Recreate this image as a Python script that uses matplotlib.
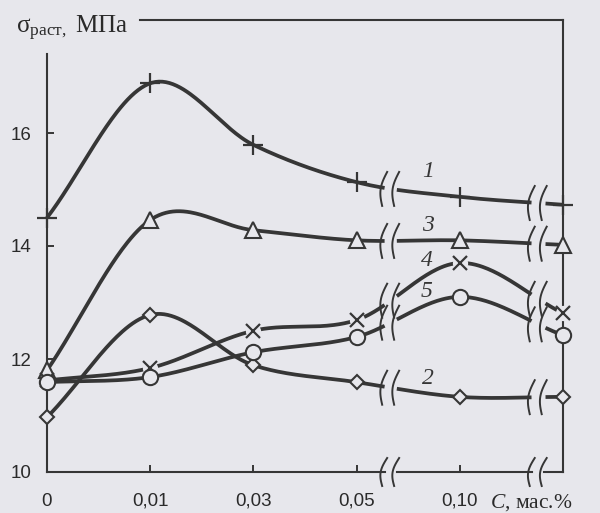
import numpy as np
import matplotlib
matplotlib.use('Agg')
import matplotlib.pyplot as plt

matplotlib.rcParams['mathtext.fontset'] = 'custom'
matplotlib.rcParams['mathtext.rm'] = 'Liberation Serif'
matplotlib.rcParams['mathtext.it'] = 'Liberation Serif:italic'
matplotlib.rcParams['font.family'] = 'Liberation Sans'

# concentration categories (equally spaced on the axis, last one unlabeled)
conc_labels = ['0', '0,01', '0,03', '0,05', '0,10']
n_pts = 6

# tensile strength, MPa, for curves 1..5
s1 = [14.5, 16.88, 15.79, 15.13, 14.87, 14.73]
s2 = [10.97, 12.78, 11.89, 11.59, 11.33, 11.33]
s3 = [11.8, 14.46, 14.28, 14.1, 14.1, 14.02]
s4 = [11.62, 11.84, 12.5, 12.69, 13.7, 12.81]
s5 = [11.59, 11.68, 12.12, 12.39, 13.1, 12.42]

BG = '#e7e7ec'
INK = '#363636'
breaks = [3.33, 4.76]
half_gap = 0.058


def smooth(y, n=60):
    # cubic Hermite (Catmull-Rom) through the points, for drawing only
    y = np.asarray(y, float)
    m = np.gradient(y)
    t = np.linspace(0, 1, n)
    h00 = 2 * t**3 - 3 * t**2 + 1
    h10 = t**3 - 2 * t**2 + t
    h01 = -2 * t**3 + 3 * t**2
    h11 = t**3 - t**2
    xs, ys = [], []
    for i in range(len(y) - 1):
        xs.append(i + t)
        ys.append(h00 * y[i] + h10 * m[i] + h01 * y[i + 1] + h11 * m[i + 1])
    return np.concatenate(xs), np.concatenate(ys)


fig = plt.figure(figsize=(6, 5.13), dpi=100, facecolor=BG)
ax = fig.add_axes([47 / 600, 1 - 472 / 513, 516 / 600, 452 / 513])
ax.set_facecolor(BG)
ax.set_xlim(0, n_pts - 1)
ax.set_ylim(10, 18)

# px -> data scale
xpp = (n_pts - 1) / 516
ypp = 8 / 452


def break_mark(xc, yc, half_h):
    t = np.linspace(-1, 1, 40)
    dx = -4 * np.cos(np.pi * t / 2) + 2.5 * t
    dy = t * half_h
    ax.plot(xc + dx * xpp, yc + dy * ypp, color=INK, lw=1.4, clip_on=False, zorder=6)


series = [
    (s1, dict(marker='+', ms=15, mew=1.6, mfc='none')),
    (s2, dict(marker='D', ms=7, mew=1.5, mfc=BG)),
    (s3, dict(marker='^', ms=11, mew=1.5, mfc=BG)),
    (s4, dict(marker='x', ms=10, mew=1.6, mfc='none')),
    (s5, dict(marker='o', ms=11, mew=1.5, mfc=BG)),
]

for vals, mk in series:
    xs, ys = smooth(vals)
    ys_line = ys.copy()
    for xb in breaks:
        ys_line[np.abs(xs - xb) < half_gap] = np.nan
    ax.plot(xs, ys_line, color=INK, lw=2.7, solid_capstyle='butt', zorder=3, clip_on=False)
    for xb in breaks:
        yb = np.interp(xb, xs, ys)
        break_mark(xb - half_gap, yb, 17)
        break_mark(xb + half_gap, yb, 17)
    if mk['marker'] == 'x':
        ax.plot(range(n_pts), vals, 'o', ms=11, mfc=BG, mec='none', zorder=4, clip_on=False)
    ax.plot(range(n_pts), vals, ls='none', color=INK, mec=INK, zorder=5, clip_on=False, **mk)

# curve numbers
curve_ids = ['1', '3', '4', '5', '2']
label_x = [3.69, 3.69, 3.68, 3.68, 3.69]
label_y = [15.31, 14.37, 13.75, 13.19, 11.66]
for s, lx, ly in zip(curve_ids, label_x, label_y):
    ax.text(lx, ly, s, fontsize=17, fontstyle='italic', family='Liberation Serif',
            color=INK, ha='center', va='center')

# frame
for side in ['left', 'right', 'top']:
    ax.spines[side].set_color(INK)
    ax.spines[side].set_linewidth(1.5)
ax.spines['left'].set_bounds(10, 17.4)
ax.spines['top'].set_bounds(0.9, n_pts - 1)
ax.spines['bottom'].set_visible(False)

# bottom axis with gaps at breaks
bx = [0, breaks[0] - half_gap, np.nan, breaks[0] + half_gap, breaks[1] - half_gap, np.nan,
      breaks[1] + half_gap, n_pts - 1]
ax.plot(bx, [10] * len(bx), color=INK, lw=1.5, clip_on=False, zorder=2)
for xb in breaks:
    break_mark(xb - half_gap, 10, 14)
    break_mark(xb + half_gap, 10, 14)

ax.set_xticks(range(len(conc_labels)), conc_labels)
ax.set_yticks([10, 12, 14, 16])
ax.tick_params(axis='both', direction='in', length=5, width=1.4, color=INK,
               labelsize=13.5, labelcolor='#2a2a2a')
ax.tick_params(axis='x', pad=15)
ax.tick_params(axis='y', pad=11)
ax.xaxis.get_major_ticks()[0].tick1line.set_visible(False)
ax.yaxis.get_major_ticks()[0].tick1line.set_visible(False)

fig.text(16 / 600, 1 - 28 / 513, r'$\mathrm{σ}_{\mathrm{раст,}}$ МПа', fontsize=18,
         family='Liberation Serif', color='#2a2a2a', ha='left', va='center')
fig.text(490 / 600, 1 - 503 / 513, r'$C$, мас.%', fontsize=15.5,
         family='Liberation Serif', color='#2a2a2a', ha='left', va='center')

fig.savefig('out.png', dpi=100, facecolor=BG)
